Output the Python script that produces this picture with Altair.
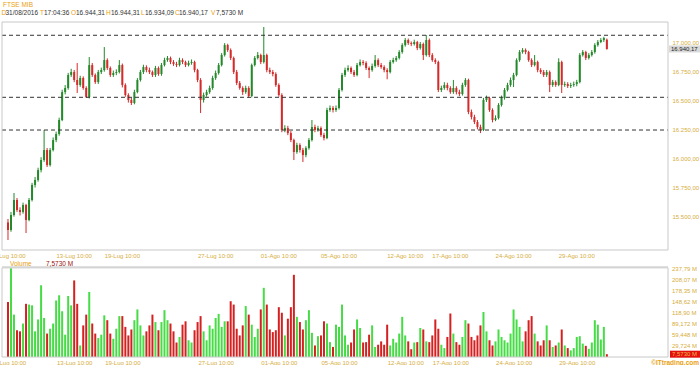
import altair as alt
import pandas as pd

# ---------------- data ----------------
opens = [15450,15385,15514,15643,15557,15540,15600,15471,15643,15772,
 15815,15900,15986,16072,15943,16072,16158,16210,16330,16570,
 16605,16717,16742,16674,16631,16691,16605,16528,16802,16717,
 16656,16742,16759,16845,16777,16717,16734,16742,16802,16631,
 16545,16502,16476,16570,16674,16742,16785,16759,16742,16717,
 16777,16725,16802,16845,16863,16828,16811,16802,16845,16828,
 16802,16820,16828,16759,16674,16502,16545,16570,16605,16691,
 16734,16802,16888,16974,16931,16863,16742,16648,16605,16570,
 16605,16536,16802,16863,16888,16828,16888,16759,16742,16725,
 16631,16545,16244,16261,16218,16158,16055,16115,16072,16029,
 16089,16158,16270,16244,16261,16201,16175,16416,16433,16416,
 16433,16588,16717,16759,16777,16742,16717,16802,16828,16820,
 16777,16759,16794,16845,16802,16785,16759,16742,16828,16845,
 16863,16914,16974,17017,16991,16983,17000,16948,16983,16888,
 17017,16888,16845,16828,16588,16605,16631,16605,16570,16605,
 16570,16553,16631,16674,16399,16356,16313,16270,16244,16502,
 16519,16416,16330,16347,16459,16519,16588,16631,16674,16717,
 16845,16914,16931,16914,16845,16802,16828,16759,16742,16717,
 16742,16631,16656,16631,16828,16631,16639,16622,16631,16639,
 16656,16888,16914,16863,16888,16914,16974,17000,17017,17020]

closes = [15385,15514,15643,15557,15540,15600,15471,15643,15772,15815,
 15900,15986,16072,15943,16072,16158,16210,16330,16570,16605,
 16717,16742,16674,16631,16691,16605,16528,16802,16717,16656,
 16742,16759,16845,16777,16717,16734,16742,16802,16631,16545,
 16502,16476,16570,16674,16742,16785,16759,16742,16717,16777,
 16725,16802,16845,16863,16828,16811,16802,16845,16828,16802,
 16820,16828,16759,16674,16502,16545,16570,16605,16691,16734,
 16802,16888,16974,16931,16863,16742,16648,16605,16570,16605,
 16536,16802,16863,16888,16828,16888,16759,16742,16725,16631,
 16545,16244,16261,16218,16158,16055,16115,16072,16029,16089,
 16158,16270,16244,16261,16201,16175,16416,16433,16416,16433,
 16588,16717,16759,16777,16742,16717,16802,16828,16820,16777,
 16759,16794,16845,16802,16785,16759,16742,16828,16845,16863,
 16914,16974,17017,16991,16983,17000,16948,16983,16888,17017,
 16888,16845,16828,16588,16605,16631,16605,16570,16605,16570,
 16553,16631,16674,16399,16356,16313,16270,16244,16502,16519,
 16416,16330,16347,16459,16519,16588,16631,16674,16717,16845,
 16914,16931,16914,16845,16802,16828,16759,16742,16717,16742,
 16631,16656,16631,16828,16631,16639,16622,16631,16639,16656,
 16888,16914,16863,16888,16914,16974,17000,17017,17034,16940.17]

highs = [15480,15540,15703,15660,15580,15620,15610,15660,15790,15840,
 15920,16010,16244,16090,16090,16180,16230,16350,16590,16630,
 16735,16770,16760,16820,16710,16705,16620,16871,16820,16730,
 16760,16780,16957,16860,16790,16755,16765,16845,16815,16645,
 16560,16520,16590,16690,16760,16805,16800,16780,16755,16795,
 16790,16820,16865,16880,16875,16845,16830,16865,16860,16840,
 16840,16850,16840,16770,16690,16565,16590,16625,16710,16755,
 16820,16905,16991,16985,16945,16875,16760,16665,16620,16625,
 16620,16815,16880,16914,16900,17129,16900,16780,16760,16740,
 16645,16560,16285,16280,16235,16170,16135,16130,16090,16105,
 16175,16330,16290,16280,16275,16220,16435,16455,16450,16455,
 16605,16735,16780,16800,16790,16760,16820,16850,16845,16835,
 16790,16815,16888,16860,16820,16800,16775,16845,16865,16880,
 16930,16990,17034,17030,17005,17020,17010,17000,16995,17060,
 17030,16905,16860,16840,16625,16655,16650,16620,16674,16620,
 16590,16650,16690,16685,16420,16375,16330,16290,16520,16540,
 16530,16430,16370,16475,16540,16605,16650,16695,16735,16860,
 16931,16948,16945,16925,16860,16888,16840,16775,16760,16760,
 16755,16675,16670,16860,16840,16660,16655,16650,16660,16675,
 16905,16931,16925,16905,16931,16990,17017,17034,17045,17030]

lows = [15299,15370,15500,15540,15510,15525,15359,15460,15630,15750,
 15800,15880,15970,15926,15930,16060,16140,16195,16320,16550,
 16590,16700,16655,16562,16615,16590,16519,16515,16700,16640,
 16640,16725,16745,16760,16700,16700,16715,16730,16610,16530,
 16480,16459,16465,16560,16660,16725,16740,16725,16700,16700,
 16710,16710,16790,16830,16810,16795,16785,16790,16810,16785,
 16790,16805,16740,16655,16390,16480,16530,16555,16590,16675,
 16720,16790,16875,16915,16845,16725,16630,16590,16545,16555,
 16520,16525,16790,16850,16810,16815,16740,16725,16705,16615,
 16530,16225,16225,16200,16140,15986,16040,16050,15969,16010,
 16075,16145,16225,16230,16185,16155,16165,16400,16395,16400,
 16420,16575,16700,16745,16725,16700,16705,16790,16800,16760,
 16690,16745,16780,16785,16770,16740,16680,16730,16815,16830,
 16850,16900,16960,16975,16965,16970,16930,16935,16845,16875,
 16870,16830,16810,16570,16570,16590,16585,16555,16555,16550,
 16535,16540,16615,16380,16335,16295,16250,16218,16235,16485,
 16400,16310,16320,16335,16445,16505,16575,16615,16613,16705,
 16830,16900,16895,16830,16785,16790,16740,16725,16700,16700,
 16570,16615,16615,16620,16562,16615,16605,16605,16615,16620,
 16645,16875,16845,16850,16875,16900,16960,16990,17000,16934]

volumes = [148,239,114,72,69,90,143,141,139,69,
 101,193,105,63,76,90,152,166,123,60,
 164,139,206,143,31,85,114,175,90,63,
 51,60,112,99,63,49,76,110,110,81,
 58,74,99,128,85,58,69,85,114,94,
 72,94,126,99,90,69,39,54,87,96,
 45,39,72,94,110,69,45,85,76,105,
 116,81,96,96,150,141,76,58,85,137,
 114,87,54,76,128,186,141,74,67,72,
 134,119,58,103,134,221,108,94,74,99,
 126,65,31,56,58,96,90,40,27,87,
 81,141,58,33,39,74,101,78,39,40,
 60,85,27,33,42,33,87,31,49,39,
 63,108,58,42,21,39,40,78,74,42,
 40,58,101,76,33,24,54,117,63,40,
 33,54,99,90,54,45,58,85,121,69,
 45,31,42,74,54,45,39,63,128,101,
 81,42,69,99,110,63,42,31,45,85,
 45,27,31,39,74,31,24,18,24,54,
 56,36,30,22,39,99,87,47,81,7.573]

x_tick_idx = [0, 22, 38, 69, 90, 110, 132, 147, 168, 189]
x_tick_labels = ["06-Lug 10:00", "13-Lug 10:00", "19-Lug 10:00", "27-Lug 10:00",
                 "01-Ago 10:00", "05-Ago 10:00", "12-Ago 10:00", "17-Ago 10:00",
                 "24-Ago 10:00", "29-Ago 10:00"]
price_ticks = [15500, 15750, 16000, 16250, 16500, 16750, 17000]
volume_ticks = [29.724, 59.448, 89.172, 118.90, 148.62, 178.35, 208.07, 237.79]
support_levels = [17058, 16525, 16244]
last_volume = [7.573]

header_keys = ["D", "T", "O", "H", "L", "C", "V"]
header_vals = ["31/08/2016", "17:04:36", "16.944,31", "16.944,31", "16.934,09",
               "16.940,17", "7,5730 M"]

# ---------------- styling / layout ----------------
W, H = 666, 335            # whole plotting region (price pane + gap + volume pane)
MAIN_H = 228               # price pane height
VOL_TOP = 245.7            # top of the volume pane inside the region
GOLD = "#d6ad3c"
ORANGE = "#e8a010"
UP, DOWN = "#23892a", "#d32a2a"
VUP, VDOWN = "#46dc46", "#d42020"
FONT = "Liberation Sans"

N = len(closes)
step = 608 / (N - 1)
xs = alt.Scale(domain=[-1 / step, (W - 1) / step], nice=False, zero=False)
# price pane: 17172 at the top, 15213 at the pane's bottom edge (y = 228)
ys = alt.Scale(domain=[14294, 17172], nice=False, zero=False)
# volume pane: 0 at the bottom of the region, 239.4 at the pane's top edge
vs = alt.Scale(domain=[0, 901], nice=False, zero=False)

df = pd.DataFrame({"i": list(range(N)), "open": opens, "high": highs,
                   "low": lows, "close": closes, "volume": volumes})

IS_UP = "datum.close >= datum.open"
IT_FMT = "replace(replace(replace(format({v}, ',.2f'), ',', '#'), '.', ','), '#', '.')"
ticks_df = pd.DataFrame({"i": x_tick_idx, "lab": x_tick_labels})
x_label_expr = "{" + ",".join(f'"{i}":"{t}"' for i, t in zip(x_tick_idx, x_tick_labels)) + "}[datum.value]"

x_axis = alt.Axis(values=x_tick_idx, labelExpr=x_label_expr, ticks=False, domain=False,
                  grid=False, labelFlush=False, labelOverlap=False, labelColor=GOLD,
                  labelFontSize=6, labelPadding=2, title=None, labelFont=FONT)
y_axis = alt.Axis(orient="right", values=price_ticks, labelExpr=IT_FMT.format(v="datum.value"),
                  ticks=False, domain=False, grid=False, labelColor=GOLD, labelFontSize=6,
                  labelPadding=4, title=None, labelFont=FONT)

one = pd.DataFrame({"k": [0]})


def label(txt, x, y, color, size=6.5, weight="normal", align="left"):
    return alt.Chart(pd.DataFrame({"t": [txt]})).mark_text(
        align=align, baseline="middle", fontSize=size, color=color, font=FONT, fontWeight=weight
    ).encode(text="t:N", x=alt.value(x), y=alt.value(y))


# pane frames
frame_main = alt.Chart(one).mark_rect(fill=None, stroke="#c8c8c8", strokeWidth=1).encode(
    x=alt.value(0), x2=alt.value(W), y=alt.value(0), y2=alt.value(MAIN_H))
frame_vol = alt.Chart(one).mark_rect(fill=None, stroke="#c8c8c8", strokeWidth=1).encode(
    x=alt.value(0), x2=alt.value(W), y=alt.value(VOL_TOP), y2=alt.value(H))
band_vol = alt.Chart(one).mark_rule(stroke="#d4d4d4", strokeWidth=2).encode(
    x=alt.value(0), x2=alt.value(W), y=alt.value(VOL_TOP - 0.5))

# ---------------- price pane ----------------
base = alt.Chart(df)
wicks = base.mark_rule(strokeWidth=1).encode(
    x=alt.X("i:Q", scale=xs, axis=x_axis),
    y=alt.Y("low:Q", scale=ys, axis=y_axis),
    y2="high:Q",
    color=alt.condition(IS_UP, alt.value(UP), alt.value(DOWN)),
)
bodies = base.mark_bar(size=2).encode(
    x=alt.X("i:Q", scale=xs, title=None),
    y=alt.Y("open:Q", scale=ys, title=None),
    y2="close:Q",
    color=alt.condition(IS_UP, alt.value(UP), alt.value(DOWN)),
)
dashed = alt.Chart(pd.DataFrame({"level": support_levels})).mark_rule(
    strokeDash=[4, 3], color="#333333", strokeWidth=1
).encode(y=alt.Y("level:Q", scale=ys, title=None), x=alt.value(0), x2=alt.value(W))

last_df = pd.DataFrame({"v": [closes[-1]]})
pbox = alt.Chart(last_df).mark_rule(color="#d9d9d9", strokeWidth=7).encode(
    y=alt.Y("v:Q", scale=ys, title=None), x=alt.value(W + 1), x2=alt.value(W + 32))
ptext = alt.Chart(last_df).transform_calculate(t=IT_FMT.format(v="datum.v")).mark_text(
    align="left", baseline="middle", fontSize=6, color="#222222", font=FONT
).encode(y=alt.Y("v:Q", scale=ys, title=None), x=alt.value(W + 3), text="t:N")

# x labels under the price pane (same x scale)
main_xlabels = alt.Chart(ticks_df).mark_text(
    align="center", baseline="middle", fontSize=6, color=GOLD, font=FONT
).encode(x=alt.X("i:Q", scale=xs, title=None), y=alt.value(MAIN_H + 6), text="lab:N")

key_x = [-0.5, 38, 69, 104, 139, 173, 209]
val_x = [3.5, 42, 74, 109, 143, 177, 214]
header = [label("FTSE MIB", 1, -17.3, ORANGE)]
for k, v, kx, vx in zip(header_keys, header_vals, key_x, val_x):
    header.append(label(k, kx, -8.7, ORANGE))
    header.append(label(v, vx, -8.7, "#333333"))

price_pane = alt.layer(wicks, bodies, dashed, pbox, ptext, main_xlabels, frame_main, *header)

# ---------------- volume pane ----------------
vbars = base.mark_bar(size=2).encode(
    x=alt.X("i:Q", scale=xs, title=None),
    y=alt.Y("volume:Q", scale=vs, axis=None),
    color=alt.condition(IS_UP, alt.value(VUP), alt.value(VDOWN)),
)
vt_df = pd.DataFrame({"v": volume_ticks})
vlabels = alt.Chart(vt_df).transform_calculate(
    t="replace(format(datum.v, '.5r'), '.', ',') + ' M'"
).mark_text(align="left", baseline="middle", fontSize=6, color=GOLD, font=FONT).encode(
    y=alt.Y("v:Q", scale=vs, axis=None), x=alt.value(W + 4), text="t:N")
lv_df = pd.DataFrame({"v": last_volume})
vbox = alt.Chart(lv_df).mark_rule(color="#e31010", strokeWidth=7).encode(
    y=alt.Y("v:Q", scale=vs, axis=None), x=alt.value(W + 2), x2=alt.value(W + 32))
vtext = alt.Chart(lv_df).transform_calculate(
    t="replace(format(datum.v, '.4f'), '.', ',') + ' M'"
).mark_text(align="left", baseline="middle", fontSize=6, color="#f2b84a", font=FONT).encode(
    y=alt.Y("v:Q", scale=vs, axis=None), x=alt.value(W + 4), text="t:N")
vhead1 = label("Volume", 8, VOL_TOP - 4, ORANGE)
vhead2 = label("7,5730 M", 44, VOL_TOP - 4, "#9a1010")
copy = label("\u00a9ITtrading.com", W + 31, H + 6, ORANGE, weight="bold", align="right")

vol_pane = alt.layer(vbars, vlabels, vbox, vtext, frame_vol, band_vol, vhead1, vhead2, copy)

chart = alt.layer(price_pane, vol_pane).resolve_scale(y="independent").properties(
    width=W, height=H,
    padding={"left": 2, "top": 22, "right": 32, "bottom": 8},
    autosize=alt.AutoSizeParams(type="none"),
    background="white",
).configure(font=FONT).configure_view(stroke=None)

chart.save("out.html", embed_options={"renderer": "svg", "actions": False})
